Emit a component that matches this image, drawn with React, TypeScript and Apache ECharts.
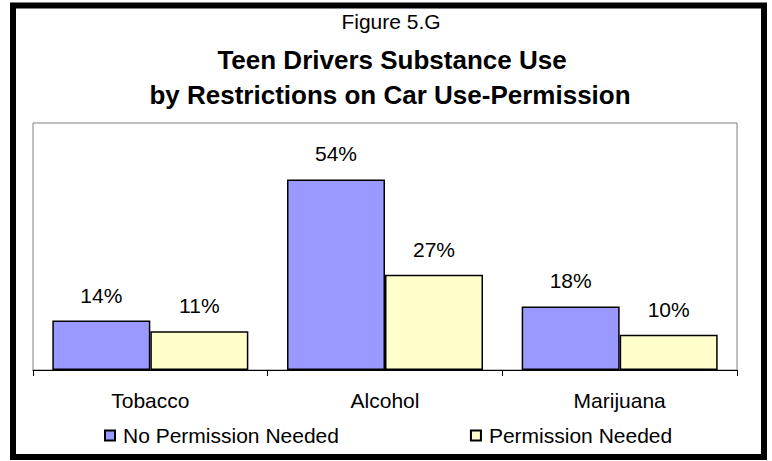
import React, { useEffect, useRef } from "react";
import * as echarts from "echarts";

const categories = ["Tobacco", "Alcohol", "Marijuana"];
const noPermission = [14, 54, 18];
const permission = [11, 27, 10];
const seriesNames = ["No Permission Needed", "Permission Needed"];
const titleLines = ["Figure 5.G", "Teen Drivers Substance Use", "by Restrictions on Car Use-Permission"];

const FONT = "'Liberation Sans', Arial, sans-serif";

export default function App() {
  const ref = useRef<HTMLDivElement>(null);
  useEffect(() => {
    document.body.style.margin = "0";
    const chart = echarts.init(ref.current!, null, { renderer: "svg" });
    const label = {
      show: true,
      position: "top",
      distance: 15,
      fontSize: 21,
      fontFamily: FONT,
      color: "#000",
      formatter: (p: any) => p.value + "%",
    };
    chart.setOption({
      animation: false,
      backgroundColor: "#fff",
      textStyle: { fontFamily: FONT },
      title: [
        {
          text: titleLines[0],
          left: 386,
          textAlign: "center",
          top: 6,
          textStyle: { fontSize: 21, fontWeight: "normal", color: "#000", fontFamily: FONT },
        },
        {
          text: titleLines[1],
          left: 387,
          textAlign: "center",
          top: 42,
          textStyle: { fontSize: 26, fontWeight: "bold", color: "#000", fontFamily: FONT },
        },
        {
          text: titleLines[2],
          left: 385,
          textAlign: "center",
          top: 77,
          textStyle: { fontSize: 26, fontWeight: "bold", color: "#000", fontFamily: FONT },
        },
      ],
      graphic: [
        {
          type: "rect",
          shape: { x: 13, y: 5.5, width: 751, height: 451.5 },
          style: { fill: "none", stroke: "#000", lineWidth: 6 },
          z: 100,
        },
      ],
      legend: {
        left: 104,
        top: 425,
        padding: 0,
        itemWidth: 10,
        itemHeight: 10,
        itemGap: 131,
        icon: "rect",
        textStyle: { fontSize: 21, color: "#000", fontFamily: FONT, padding: [0, 0, 0, 3] },
        data: seriesNames,
      },
      grid: {
        left: 33,
        top: 123,
        right: 35,
        bottom: 91,
        show: true,
        borderColor: "#808080",
        borderWidth: 1,
        backgroundColor: "#fff",
      },
      xAxis: {
        type: "category",
        data: categories,
        axisLine: { lineStyle: { color: "#000", width: 1 } },
        axisTick: { show: true, length: 6, lineStyle: { color: "#000" } },
        axisLabel: { fontSize: 21, color: "#000", margin: 20, fontFamily: FONT },
      },
      yAxis: {
        type: "value",
        min: 0,
        max: 70,
        show: false,
        splitLine: { show: false },
      },
      series: [
        {
          name: seriesNames[0],
          type: "bar",
          data: noPermission,
          barWidth: 98,
          barGap: "0%",
          itemStyle: { color: "#9999FF", borderColor: "#000", borderWidth: 1.5 },
          label,
        },
        {
          name: seriesNames[1],
          type: "bar",
          data: permission,
          barWidth: 98,
          barGap: "0%",
          itemStyle: { color: "#FFFFCC", borderColor: "#000", borderWidth: 1.5 },
          label,
        },
      ],
    });
    return () => chart.dispose();
  }, []);
  return <div ref={ref} style={{ position: "absolute", left: 0, top: 0, width: 772, height: 461 }} />;
}
